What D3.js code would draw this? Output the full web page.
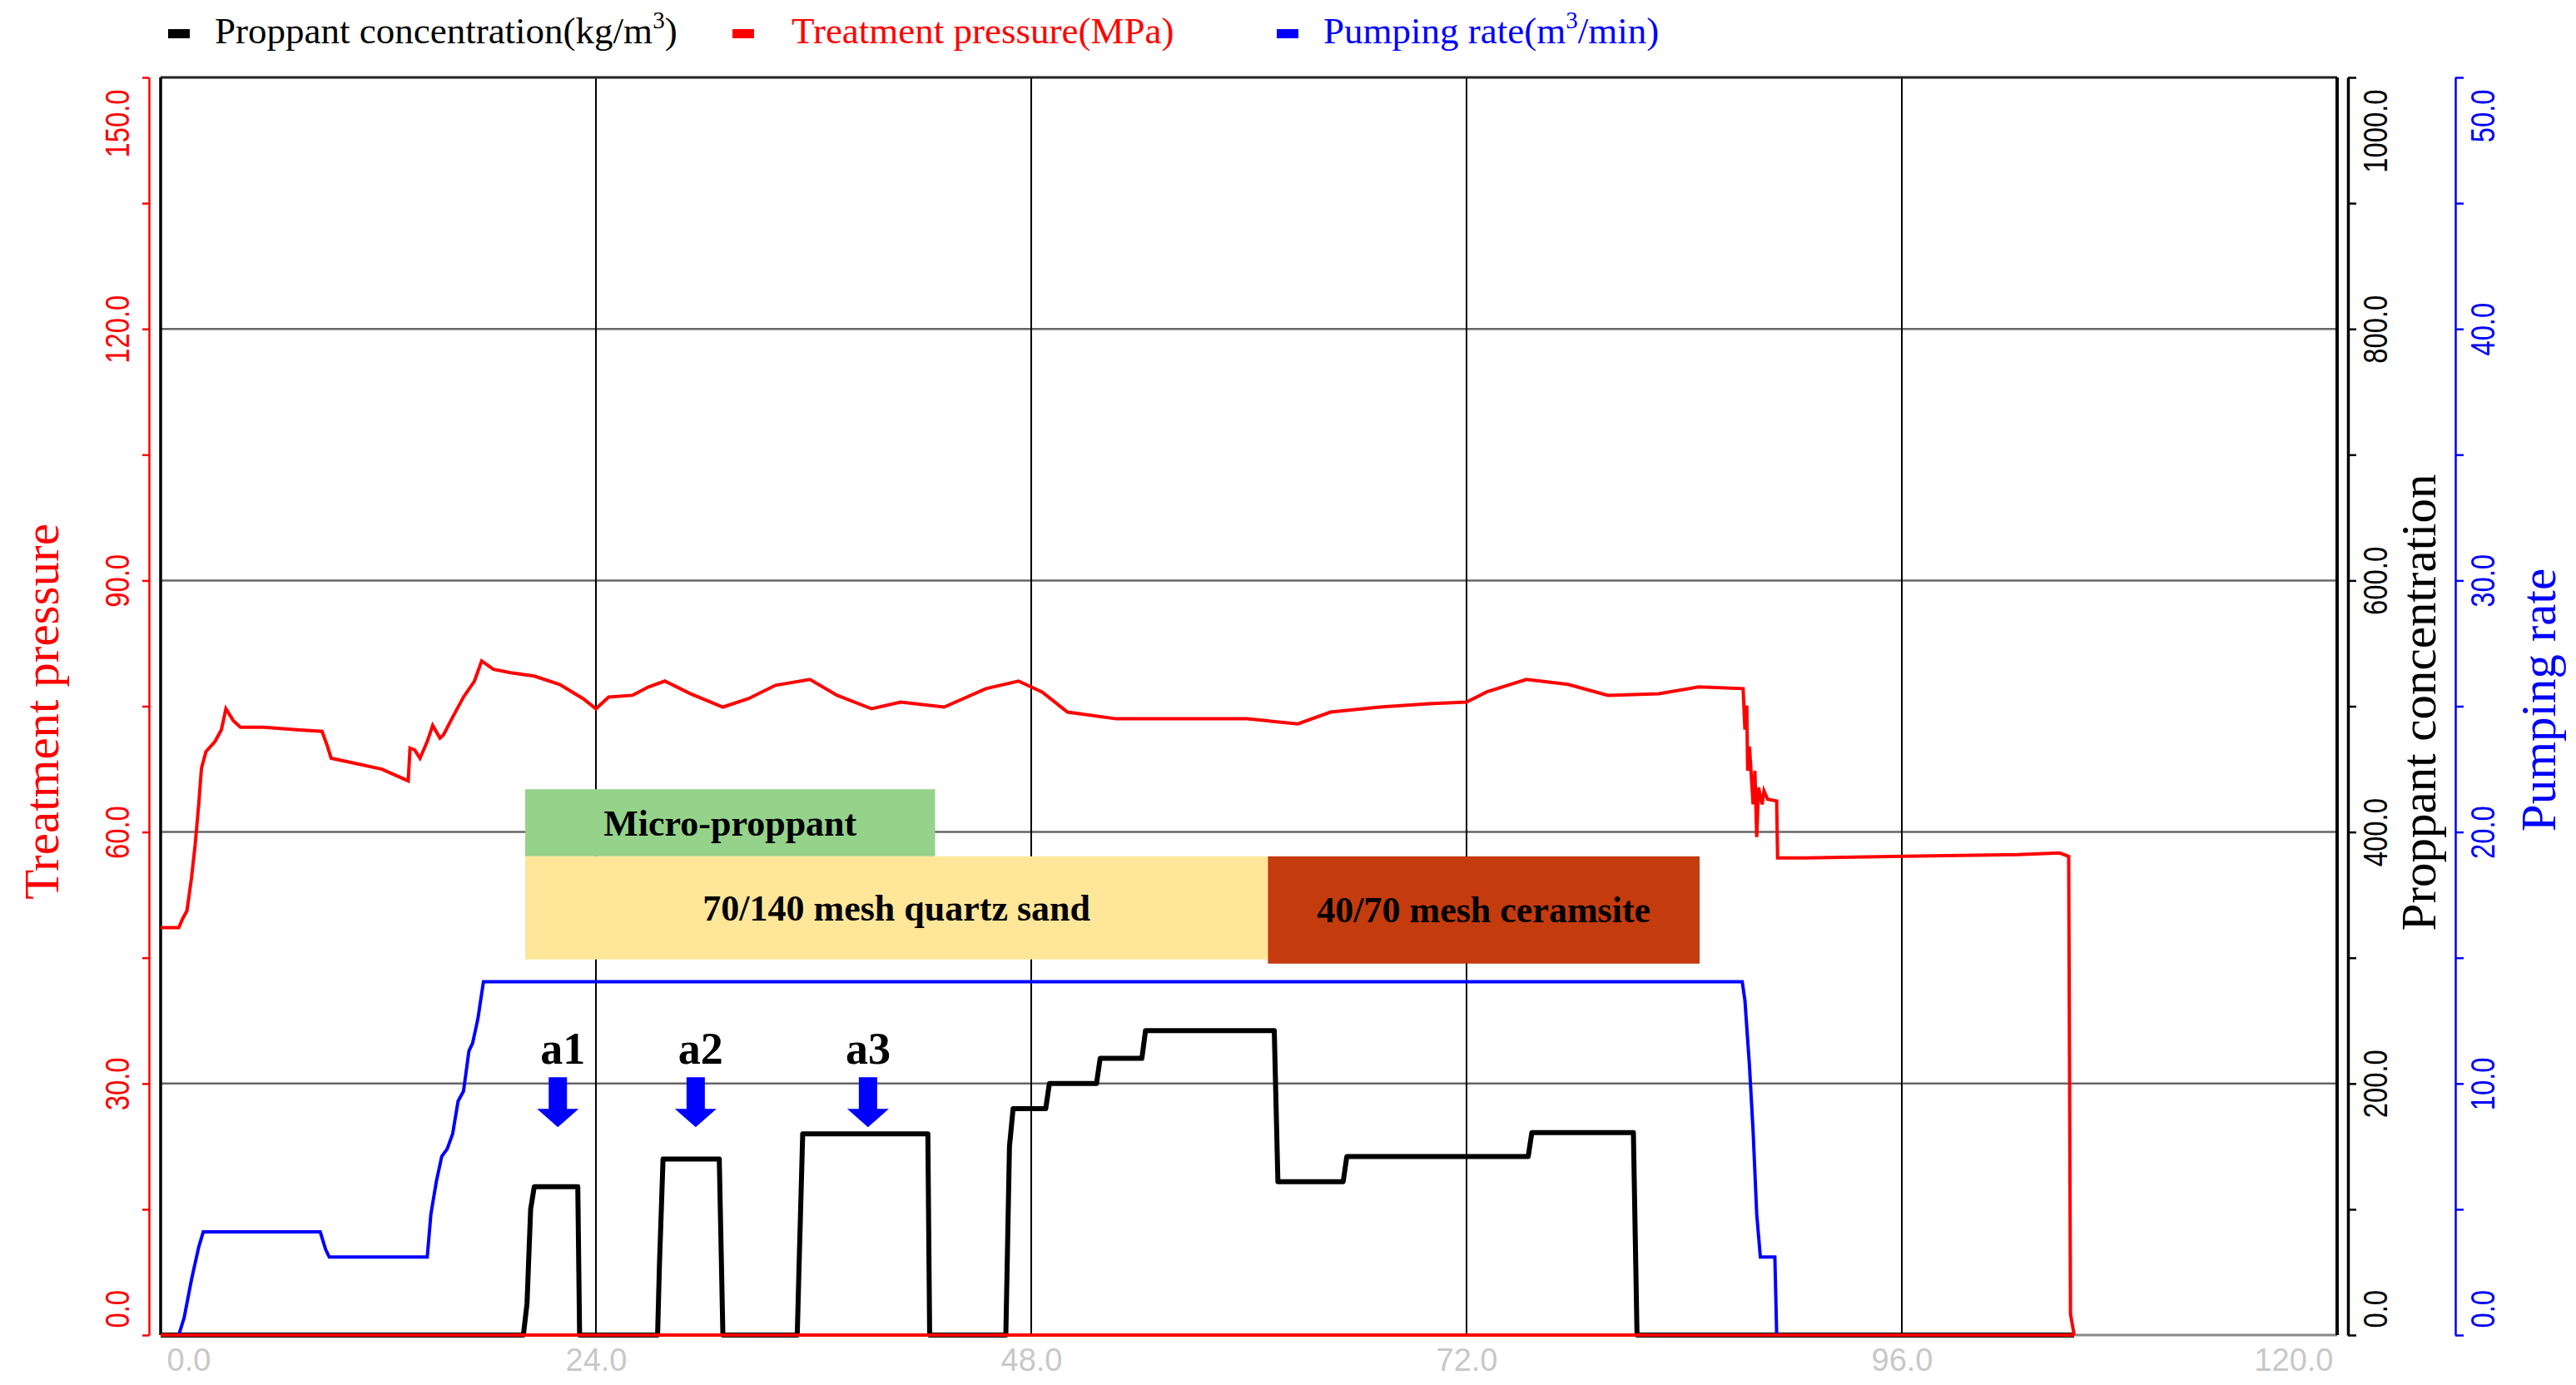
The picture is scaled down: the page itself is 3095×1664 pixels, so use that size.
<!DOCTYPE html>
<html>
<head>
<meta charset="utf-8">
<script src="https://cdn.jsdelivr.net/npm/d3@7/dist/d3.min.js"></script>
<style>
    body { margin: 0; background: #fff; }
    svg { display: block; }
</style>
</head>
<body>
<svg id="chart"></svg>
<script>
// pressure series: [time, MPa]
const pressureData = [
    [0, 48.6], [1.0, 48.6], [1.2, 49.6], [1.45, 50.6], [1.7, 54.5], [1.9, 58.4], [2.1, 63.3],
    [2.25, 67.6], [2.5, 69.6], [3.0, 70.8], [3.35, 72.2], [3.6, 74.7], [4.0, 73.3], [4.4, 72.5],
    [5.7, 72.5], [7.5, 72.2], [8.9, 72.0], [9.2, 70.2], [9.4, 68.8], [10.7, 68.2], [12.2, 67.5],
    [13.65, 66.1], [13.75, 70.0], [14.0, 69.8], [14.3, 68.8], [14.7, 70.8], [15.0, 72.7],
    [15.4, 71.2], [15.6, 71.6], [16.1, 73.7], [16.7, 76.1], [17.3, 78.0], [17.7, 80.4],
    [18.35, 79.4], [19.3, 79.0], [20.6, 78.6], [22.0, 77.6], [23.3, 75.9], [24.0, 74.7],
    [24.7, 76.1], [26.0, 76.3], [26.9, 77.3], [27.8, 78.0], [29.2, 76.5], [31.0, 74.9],
    [32.4, 75.9], [33.9, 77.5], [35.8, 78.2], [37.3, 76.3], [39.2, 74.7], [40.8, 75.5],
    [43.2, 74.9], [45.5, 77.1], [47.3, 78.0], [48.6, 76.7], [50.0, 74.3], [52.7, 73.5],
    [56.3, 73.5], [59.9, 73.5], [62.7, 72.9], [64.5, 74.3], [67.2, 74.9], [69.9, 75.3],
    [72.0, 75.5], [73.1, 76.7], [75.3, 78.2], [77.6, 77.6], [79.8, 76.3], [82.6, 76.5],
    [84.8, 77.3], [87.25, 77.1], [87.35, 72.2], [87.45, 75.1], [87.5, 67.3], [87.6, 70.2],
    [87.8, 63.3], [87.9, 67.3], [88.0, 59.4], [88.1, 65.3], [88.3, 63.3], [88.4, 64.9],
    [88.6, 63.9], [89.1, 63.7], [89.15, 56.9], [90.7, 56.9], [96.1, 57.1], [102.4, 57.3],
    [104.7, 57.5], [105.2, 57.1], [105.3, 2.5], [105.5, 0]
];
// zero trace of the pressure channel along the bottom
const pressureBase = [[0, 0], [105.5, 0]];

// pumping rate series: [time, m3/min]
const rateData = [
    [0, 0], [1.0, 0], [1.3, 0.7], [1.7, 2.2], [2.1, 3.5], [2.35, 4.1], [8.8, 4.1], [9.1, 3.4],
    [9.3, 3.1], [14.7, 3.1], [14.9, 4.8], [15.2, 6.1], [15.5, 7.1], [15.8, 7.4], [16.1, 8.0],
    [16.4, 9.3], [16.7, 9.7], [17.0, 11.3], [17.2, 11.6], [17.5, 12.6], [17.6, 13.1],
    [17.8, 14.05], [87.2, 14.05], [87.35, 13.3], [87.6, 10.7], [87.8, 8.1], [88.0, 4.8],
    [88.2, 3.1], [89.0, 3.1], [89.1, 0]
];

// proppant concentration series: [time, kg/m3]
const proppantData = [
    [0, 0], [20.0, 0], [20.2, 25], [20.4, 100], [20.6, 118], [23.0, 118], [23.1, 0],
    [27.4, 0], [27.5, 55], [27.7, 140], [30.8, 140], [31.0, 0],
    [35.1, 0], [35.2, 55], [35.4, 160], [42.3, 160], [42.4, 0],
    [46.6, 0], [46.8, 150], [47.0, 180], [48.8, 180], [49.0, 200], [51.6, 200], [51.8, 220],
    [54.1, 220], [54.3, 242], [61.4, 242], [61.6, 122], [65.2, 122], [65.4, 142], [75.4, 142],
    [75.6, 161], [81.2, 161], [81.4, 0], [105.5, 0]
];

// tick values
const xTicks = [0, 24, 48, 72, 96, 120];
const pressureTicks = d3.range(0, 151, 15);
const proppantTicks = d3.range(0, 1001, 100);
const rateTicks = d3.range(0, 51, 5);

// proppant stages: time range and pressure-axis range
const stages = [
    { name: 'Micro-proppant', t0: 20.1, t1: 42.7, p0: 57.1, p1: 65.1 },
    { name: '70/140 mesh quartz sand', t0: 20.1, t1: 61.05, p0: 44.8, p1: 57.1 },
    { name: '40/70 mesh ceramsite', t0: 61.05, t1: 84.85, p0: 44.3, p1: 57.1 }
];
const stageColors = ['#95d28a', '#ffe699', '#c43b0e'];

// a1..a3 markers: time and pressure of arrow tip
const markerNames = ['a1', 'a2', 'a3'];
const markerTimes = [21.9, 29.5, 39.0];
const markerTip = 24.8;

const legendItems = [
    { name: 'Proppant concentration(kg/m', sup: '3', tail: ')', color: '#000' },
    { name: 'Treatment pressure(MPa)', color: '#ff0000' },
    { name: 'Pumping rate(m', sup: '3', tail: '/min)', color: '#0000ff' }
];

const W = 3095, H = 1664;
const plot = { left: 193, right: 2808, top: 93, bottom: 1604 };
const serif = '"Liberation Serif", "Times New Roman", serif';
const sans = '"Liberation Sans", Arial, sans-serif';

const svg = d3.select('#chart').attr('width', W).attr('height', H);

// scales
const x = d3.scaleLinear().domain([0, 120]).range([plot.left, plot.right]);
const yP = d3.scaleLinear().domain([0, 150]).range([plot.bottom, plot.top]);
const yC = d3.scaleLinear().domain([0, 1000]).range([plot.bottom, plot.top]);
const yQ = d3.scaleLinear().domain([0, 50]).range([plot.bottom, plot.top]);

// grid
svg.append('g')
    .selectAll('line')
    .data([30, 60, 90, 120])
    .join('line')
    .attr('x1', plot.left).attr('x2', plot.right)
    .attr('y1', (d) => yP(d)).attr('y2', (d) => yP(d))
    .attr('stroke', '#666').attr('stroke-width', 2.5);

svg.append('g')
    .selectAll('line')
    .data([24, 48, 72, 96])
    .join('line')
    .attr('x1', (d) => x(d)).attr('x2', (d) => x(d))
    .attr('y1', plot.top).attr('y2', plot.bottom)
    .attr('stroke', '#000').attr('stroke-width', 2);

// frame
svg.append('line').attr('x1', plot.left).attr('x2', plot.right).attr('y1', plot.top).attr('y2', plot.top)
    .attr('stroke', '#222').attr('stroke-width', 3);
svg.append('line').attr('x1', plot.left).attr('x2', plot.right).attr('y1', plot.bottom).attr('y2', plot.bottom)
    .attr('stroke', '#888').attr('stroke-width', 3);
svg.append('line').attr('x1', plot.left).attr('x2', plot.left).attr('y1', plot.top).attr('y2', plot.bottom)
    .attr('stroke', '#000').attr('stroke-width', 3.5);
svg.append('line').attr('x1', plot.right).attr('x2', plot.right).attr('y1', plot.top).attr('y2', plot.bottom)
    .attr('stroke', '#000').attr('stroke-width', 4);

// stage boxes
const stageG = svg.append('g');
stages.forEach((s, i) => {
    stageG.append('rect')
        .attr('x', x(s.t0)).attr('y', yP(s.p1))
        .attr('width', x(s.t1) - x(s.t0)).attr('height', yP(s.p0) - yP(s.p1))
        .attr('fill', stageColors[i]);
    stageG.append('text')
        .attr('x', (x(s.t0) + x(s.t1)) / 2)
        .attr('y', (yP(s.p0) + yP(s.p1)) / 2 + 15)
        .attr('text-anchor', 'middle')
        .attr('font-family', serif).attr('font-weight', 'bold').attr('font-size', 44)
        .attr('fill', '#000')
        .text(s.name);
});

// lines
const line = (ys) => d3.line().x((d) => x(d[0])).y((d) => ys(d[1]));

svg.append('path').datum(proppantData)
    .attr('d', line(yC)).attr('fill', 'none')
    .attr('stroke', '#000').attr('stroke-width', 6).attr('stroke-linejoin', 'round');

svg.append('path').datum(rateData)
    .attr('d', line(yQ)).attr('fill', 'none')
    .attr('stroke', '#0000ff').attr('stroke-width', 4);

svg.append('path').datum(pressureData)
    .attr('d', line(yP)).attr('fill', 'none')
    .attr('stroke', '#ff0000').attr('stroke-width', 4);

svg.append('path').datum(pressureBase)
    .attr('d', line(yP)).attr('fill', 'none')
    .attr('stroke', '#ff0000').attr('stroke-width', 4);

// arrows a1..a3
markerTimes.forEach((t, i) => {
    const cx = x(t), tip = yP(markerTip);
    svg.append('path')
        .attr('d', `M${cx - 11},${tip - 60} L${cx + 11},${tip - 60} L${cx + 11},${tip - 22}
            L${cx + 25},${tip - 22} L${cx},${tip} L${cx - 25},${tip - 22} L${cx - 11},${tip - 22} Z`)
        .attr('fill', '#0000ff');
    svg.append('text')
        .attr('x', cx + (i < 2 ? 6 : 0)).attr('y', tip - 76)
        .attr('text-anchor', 'middle')
        .attr('font-family', serif).attr('font-weight', 'bold').attr('font-size', 54)
        .text(markerNames[i]);
});

// y axes: rotated narrow labels, first/last kept inside the axis range
function styleAxis(g, color, offset, labelEvery, maxVal) {
    g.select('.domain').attr('stroke', color).attr('stroke-width', 2.5);
    g.selectAll('.tick line').attr('stroke', color).attr('stroke-width', 2.5);
    g.selectAll('.tick text')
        .attr('fill', color)
        .attr('font-family', sans).attr('font-size', 40)
        .attr('dy', null)
        .attr('y', null)
        .attr('x', (d) => (d === 0 ? 11 : d === maxVal ? -17 : 0))
        .attr('transform', `translate(${offset},0) rotate(-90) scale(0.82,1)`)
        .attr('text-anchor', (d) => (d === 0 ? 'start' : d === maxVal ? 'end' : 'middle'))
        .text((d) => (d % labelEvery === 0 ? d.toFixed(1) : ''));
}

const leftAxis = svg.append('g')
    .attr('transform', 'translate(179,0)')
    .call(d3.axisLeft(yP).tickValues(pressureTicks).tickSize(8).tickSizeOuter(0));
styleAxis(leftAxis, '#ff0000', -24, 30, 150);

const concAxis = svg.append('g')
    .attr('transform', 'translate(2821,0)')
    .call(d3.axisRight(yC).tickValues(proppantTicks).tickSize(10).tickSizeOuter(0));
styleAxis(concAxis, '#000', 47, 200, 1000);
concAxis.select('.domain').attr('stroke-width', 3.5);

const rateAxis = svg.append('g')
    .attr('transform', 'translate(2950,0)')
    .call(d3.axisRight(yQ).tickValues(rateTicks).tickSize(10).tickSizeOuter(0));
styleAxis(rateAxis, '#0000ff', 47, 10, 50);

// x axis labels only
const xAxis = svg.append('g')
    .attr('transform', `translate(0,${plot.bottom})`)
    .call(d3.axisBottom(x).tickValues(xTicks).tickSize(0).tickFormat(d3.format('.1f')));
xAxis.select('.domain').remove();
xAxis.selectAll('.tick text')
    .attr('fill', '#c8c8c8')
    .attr('font-family', sans).attr('font-size', 38)
    .attr('dy', null).attr('y', 43)
    .attr('x', (d) => (d === 0 ? 7 : d === 120 ? -5 : 0))
    .attr('text-anchor', (d) => (d === 0 ? 'start' : d === 120 ? 'end' : 'middle'));

// axis titles
const titles = [
    { text: 'Treatment pressure', x: 70, y: 855, color: '#ff0000' },
    { text: 'Proppant concentration', x: 2926, y: 844, color: '#000' },
    { text: 'Pumping rate', x: 3070, y: 841, color: '#0000ff' }
];
titles.forEach((t) => {
    svg.append('text')
        .attr('transform', `translate(${t.x},${t.y}) rotate(-90)`)
        .attr('text-anchor', 'middle')
        .attr('font-family', serif).attr('font-size', 59)
        .attr('fill', t.color)
        .text(t.text);
});

// legend
const legendX = [202, 880, 1534];
legendItems.forEach((item, i) => {
    svg.append('rect')
        .attr('x', legendX[i]).attr('y', 35)
        .attr('width', 26).attr('height', 11)
        .attr('fill', item.color);
    const txt = svg.append('text')
        .attr('x', legendX[i] + (i === 1 ? 71 : 56)).attr('y', 52)
        .attr('font-family', serif).attr('font-size', 45)
        .attr('fill', item.color);
    txt.append('tspan').text(item.name);
    if (item.sup) {
        txt.append('tspan').attr('font-size', 29).attr('dy', -18).text(item.sup);
        txt.append('tspan').attr('dy', 18).text(item.tail);
    }
});
</script>
</body>
</html>
